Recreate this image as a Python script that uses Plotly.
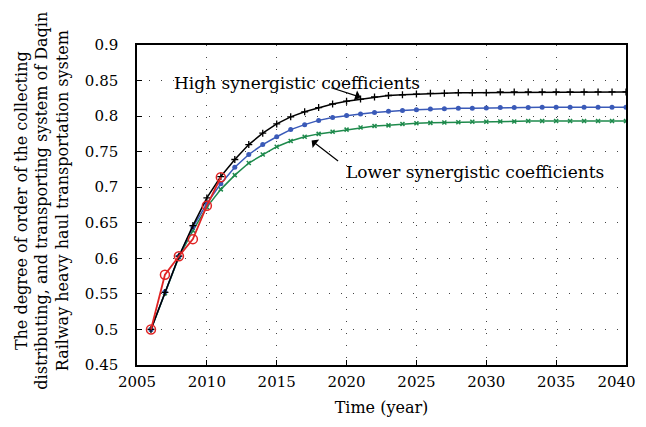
import plotly.graph_objects as go

years = list(range(2006, 2041))
high = [0.500, 0.552, 0.603, 0.646, 0.685, 0.715, 0.739, 0.760, 0.776, 0.789,
        0.799, 0.806, 0.812, 0.817, 0.821, 0.824, 0.827, 0.829, 0.830, 0.831,
        0.832, 0.832, 0.833, 0.833, 0.833, 0.834, 0.834, 0.834, 0.834, 0.834,
        0.834, 0.834, 0.834, 0.834, 0.834]
mid = [0.500, 0.553, 0.603, 0.644, 0.677, 0.705, 0.728, 0.746, 0.760, 0.771,
       0.781, 0.788, 0.794, 0.798, 0.801, 0.803, 0.805, 0.807, 0.808, 0.809,
       0.810, 0.8105, 0.811, 0.811, 0.8115, 0.812, 0.812, 0.812, 0.8125, 0.8125,
       0.8125, 0.8125, 0.8125, 0.8125, 0.8125]
low = [0.500, 0.551, 0.602, 0.639, 0.672, 0.697, 0.717, 0.734, 0.746, 0.757,
       0.765, 0.771, 0.775, 0.778, 0.781, 0.784, 0.786, 0.787, 0.789, 0.790,
       0.7905, 0.791, 0.7915, 0.792, 0.792, 0.7925, 0.7925, 0.793, 0.793, 0.793,
       0.793, 0.793, 0.793, 0.793, 0.793]
actual_years = [2006, 2007, 2008, 2009, 2010, 2011]
actual = [0.500, 0.577, 0.603, 0.627, 0.674, 0.714]

x_ticks = [2005, 2010, 2015, 2020, 2025, 2030, 2035, 2040]
x_labels = ["2005", "2010", "2015", "2020", "2025", "2030", "2035",
            "2040\u00a0\u00a0\u00a0\u00a0"]
y_ticks = [0.45, 0.5, 0.55, 0.6, 0.65, 0.7, 0.75, 0.8, 0.85, 0.9]
y_labels = ["0.45", "0.5", "0.55", "0.6", "0.65", "0.7", "0.75", "0.8", "0.85", "0.9"]

FONT = "DejaVu Serif"

fig = go.Figure()
fig.add_trace(go.Scatter(x=years, y=low, mode="lines+markers",
                         line=dict(color="#1e8a4c", width=1.5),
                         marker=dict(symbol="x-thin", size=4, color="#1e8a4c",
                                     line=dict(width=1.5, color="#1e8a4c"))))
fig.add_trace(go.Scatter(x=years, y=mid, mode="lines+markers",
                         line=dict(color="#3a5ab8", width=1.5),
                         marker=dict(symbol="circle", size=5, color="#3a5ab8")))
fig.add_trace(go.Scatter(x=years, y=high, mode="lines+markers",
                         line=dict(color="black", width=1.5),
                         marker=dict(symbol="cross-thin", size=5, color="black",
                                     line=dict(width=1.3, color="black"))))
fig.add_trace(go.Scatter(x=actual_years, y=actual, mode="lines+markers",
                         line=dict(color="#e02424", width=1.8),
                         marker=dict(symbol="circle-open", size=9, color="#e02424",
                                     line=dict(width=1.5, color="#e02424"))))

fig.add_annotation(x=2021.0, y=0.8265, ax=2018.8, ay=0.8406,
                   xref="x", yref="y", axref="x", ayref="y",
                   showarrow=True, arrowhead=1, arrowsize=1.5, arrowwidth=1.2,
                   arrowcolor="black", text="")
fig.add_annotation(x=2017.5, y=0.7657, ax=2019.5, ay=0.7352,
                   xref="x", yref="y", axref="x", ayref="y",
                   showarrow=True, arrowhead=1, arrowsize=1.5, arrowwidth=1.2,
                   arrowcolor="black", text="")
fig.add_annotation(x=2007.5, y=0.8465, xref="x", yref="y", xanchor="left",
                   yanchor="middle", showarrow=False,
                   text="High synergistic coefficients",
                   font=dict(family=FONT, size=17, color="black"))
fig.add_annotation(x=2019.8, y=0.7215, xref="x", yref="y", xanchor="left",
                   yanchor="middle", showarrow=False,
                   text="Lower synergistic coefficients",
                   font=dict(family=FONT, size=17, color="black"))

# y-axis title (three lines)
fig.add_annotation(x=-0.194, y=0.514, xref="paper", yref="paper",
                   xanchor="center", yanchor="middle", textangle=-90,
                   showarrow=False,
                   text="The degree of order of the collecting<br>"
                        "distributing, and transporting system of Daqin<br>"
                        "Railway heavy haul transportation system",
                   font=dict(family=FONT, size=16, color="black"))

grid_dash = "1px,11px"
fig.update_xaxes(range=[2005, 2040], tickvals=x_ticks, ticktext=x_labels,
                 ticks="inside", ticklen=5,
                 tickcolor="black", showline=True, linecolor="black", linewidth=1.5,
                 mirror=True, showgrid=True, gridcolor="#444444", gridwidth=1,
                 griddash=grid_dash, zeroline=False, automargin=False,
                 ticklabelstandoff=2, ticklabeloverflow="allow",
                 tickfont=dict(family=FONT, size=15, color="black"),
                 title=dict(text="Time (year)", standoff=12,
                            font=dict(family=FONT, size=16, color="black")))
fig.update_yaxes(range=[0.45, 0.9], tickvals=y_ticks, ticktext=y_labels,
                 ticks="inside", ticklen=5, tickcolor="black", showline=True,
                 linecolor="black", linewidth=1.5, mirror=True, showgrid=True,
                 gridcolor="#444444", gridwidth=1, griddash=grid_dash, zeroline=False,
                 automargin=False, ticklabelstandoff=14,
                 tickfont=dict(family=FONT, size=15, color="black"))

# the page adds an 8px body margin, so margins are shifted to compensate
fig.update_layout(width=646, height=427, showlegend=False,
                  margin=dict(l=129, r=28, t=37, b=70),
                  plot_bgcolor="white", paper_bgcolor="white")

fig.write_html("out.html")
